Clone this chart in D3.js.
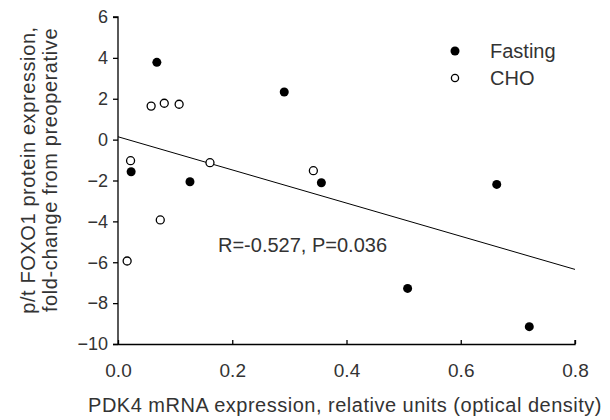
<!DOCTYPE html>
<html>
<head>
<meta charset="utf-8">
<script src="https://cdn.jsdelivr.net/npm/d3@7"></script>
<style>
  body { margin: 0; background: #fff; }
  text { font-family: Arial, "Liberation Sans", sans-serif; fill: #333; }
</style>
</head>
<body>
<div id="chart"></div>
<script>
// Fasting group (filled)
const fastingX = [0.068, 0.023, 0.126, 0.291, 0.356, 0.663, 0.507, 0.720];
const fastingY = [3.78, -1.57, -2.06, 2.33, -2.11, -2.19, -7.28, -9.15];
// CHO group (open)
const choX = [0.058, 0.081, 0.107, 0.022, 0.161, 0.342, 0.074, 0.016];
const choY = [1.64, 1.78, 1.73, -1.03, -1.13, -1.52, -3.93, -5.94];
// regression line end points
const fitX = [0, 0.8];
const fitY = [0.14, -6.35];

const xTicks = [0, 0.2, 0.4, 0.6, 0.8];
const yTicks = [-10, -8, -6, -4, -2, 0, 2, 4, 6];
const seriesNames = ["Fasting", "CHO"];

const width = 610;
const height = 420;
const margin = { top: 17, right: 35, bottom: 76, left: 118 };

const x = d3.scaleLinear().domain([0, 0.8]).range([margin.left, width - margin.right]);
const y = d3.scaleLinear().domain([-10, 6]).range([height - margin.bottom, margin.top]);

const svg = d3.select("#chart")
  .append("svg")
  .attr("width", width)
  .attr("height", height);

/* Axes */
svg.append("g")
  .attr("transform", `translate(0,${y(-10)})`)
  .call(d3.axisBottom(x).tickValues(xTicks).tickFormat(d3.format(".1f")).tickSize(-4).tickPadding(20))
  .call((g) => g.select(".domain").attr("d", `M${x(0) - 5},0.5H${x(0.8)}V-4`))
  .call((g) => g.selectAll("text").style("font-size", "19px"));

svg.append("g")
  .attr("transform", `translate(${x(0)},0)`)
  .call(d3.axisLeft(y).tickValues(yTicks).tickFormat(d3.format("d")).tickSize(5).tickPadding(5))
  .call((g) => g.select(".domain").attr("d", `M-5,${y(6)}H0V${y(-10)}`))
  .call((g) => g.selectAll("text").style("font-size", "18px"));

svg.selectAll(".domain, .tick line").attr("stroke", "#000").attr("stroke-width", 1.3);

/* Regression line */
svg.append("line")
  .attr("x1", x(fitX[0]))
  .attr("y1", y(fitY[0]))
  .attr("x2", x(fitX[1]))
  .attr("y2", y(fitY[1]))
  .attr("stroke", "#000")
  .attr("stroke-width", 1);

/* Points */
svg.append("g")
  .selectAll("circle")
  .data(fastingX.map((d, i) => [d, fastingY[i]]))
  .join("circle")
  .attr("cx", (d) => x(d[0]))
  .attr("cy", (d) => y(d[1]))
  .attr("r", 4.5)
  .attr("fill", "#000");

svg.append("g")
  .selectAll("circle")
  .data(choX.map((d, i) => [d, choY[i]]))
  .join("circle")
  .attr("cx", (d) => x(d[0]))
  .attr("cy", (d) => y(d[1]))
  .attr("r", 4)
  .attr("fill", "#fff")
  .attr("stroke", "#000")
  .attr("stroke-width", 1.3);

/* Legend */
const legend = svg.append("g");
seriesNames.forEach((name, i) => {
  const ly = 51 + i * 27;
  legend.append("circle")
    .attr("cx", 455)
    .attr("cy", ly)
    .attr("r", i === 0 ? 4.5 : 3.6)
    .attr("fill", i === 0 ? "#000" : "#fff")
    .attr("stroke", "#000")
    .attr("stroke-width", i === 0 ? 0 : 1.3);
  legend.append("text")
    .attr("x", 490)
    .attr("y", ly + 7)
    .style("font-size", "20px")
    .text(name);
});

/* Stats label */
svg.append("text")
  .attr("x", 218)
  .attr("y", 252)
  .style("font-size", "20px")
  .text("R=-0.527, P=0.036");

/* Axis titles */
svg.append("text")
  .attr("x", 345)
  .attr("y", 412)
  .attr("text-anchor", "middle")
  .style("font-size", "20px")
  .style("letter-spacing", "0.5px")
  .text("PDK4 mRNA expression, relative units (optical density)");

const yTitle = svg.append("text")
  .attr("transform", `translate(35,170) rotate(-90)`)
  .attr("text-anchor", "middle")
  .style("font-size", "20px")
  .style("letter-spacing", "0.6px");
yTitle.append("tspan").attr("x", 0).attr("dy", 0).text("p/t FOXO1 protein expression,");
yTitle.append("tspan").attr("x", 0).attr("dy", 22).text("fold-change from preoperative");
</script>
</body>
</html>
